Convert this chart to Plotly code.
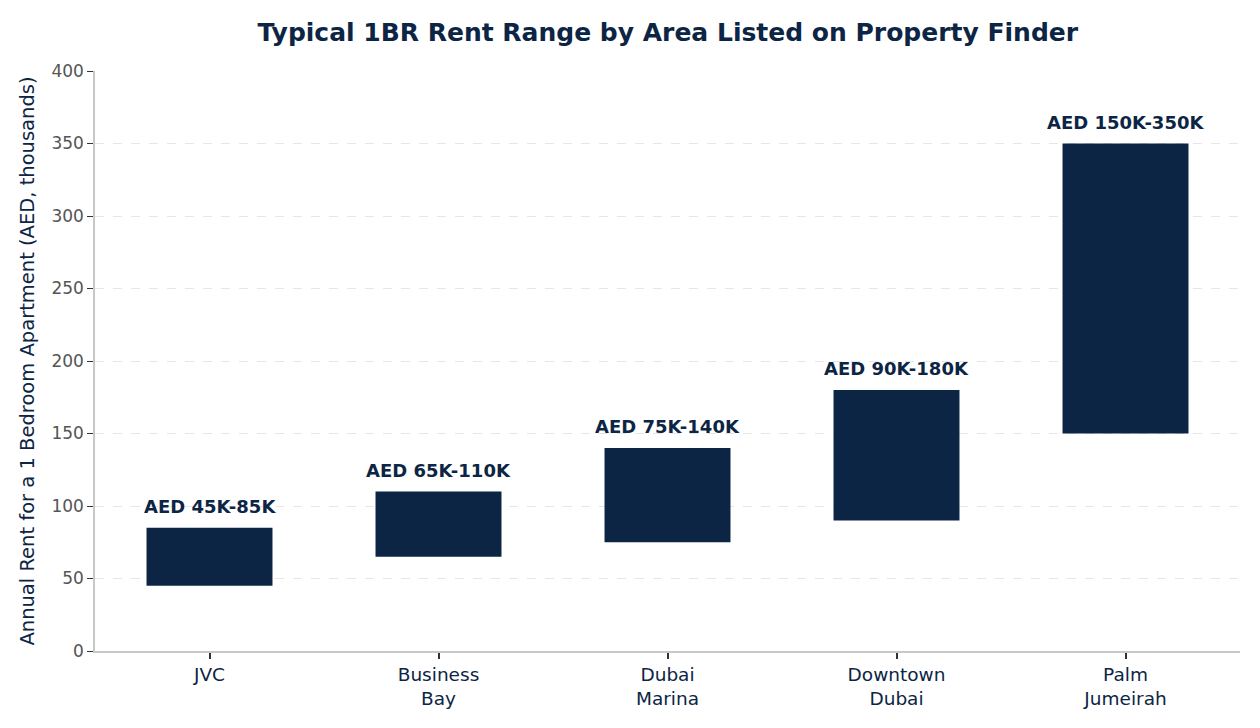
import plotly.graph_objects as go

areas = ["JVC", "Business<br>Bay", "Dubai<br>Marina", "Downtown<br>Dubai", "Palm<br>Jumeirah"]
low = [45, 65, 75, 90, 150]
high = [85, 110, 140, 180, 350]
labels = ["AED 45K-85K", "AED 65K-110K", "AED 75K-140K", "AED 90K-180K", "AED 150K-350K"]

navy = "#0c2544"
font = "DejaVu Sans"

fig = go.Figure()
fig.add_trace(go.Bar(
    x=areas,
    y=[h - l for h, l in zip(high, low)],
    base=low,
    marker=dict(color=navy, line=dict(width=0)),
    width=0.55,
    hoverinfo="skip",
))
for a, h, t in zip(areas, high, labels):
    fig.add_annotation(x=a, y=h, text="<b>" + t + "</b>", showarrow=False,
                       yanchor="bottom", yshift=9,
                       font=dict(family=font, size=18, color=navy))

fig.update_layout(
    width=1260, height=728,
    margin=dict(l=95, r=20, t=71, b=77),
    paper_bgcolor="white", plot_bgcolor="white",
    showlegend=False,
    title=dict(text="<b>Typical 1BR Rent Range by Area Listed on Property Finder</b>",
               x=0.53, xanchor="center", y=0.956, yanchor="middle",
               font=dict(family=font, size=25, color=navy)),
    font=dict(family=font),
    bargap=0.45,
)
fig.update_xaxes(
    showline=True, linecolor="#c8c8c8", linewidth=1.5,
    ticks="outside", ticklen=6, tickcolor="#333", tickwidth=1.5,
    tickfont=dict(family=font, size=18.5, color=navy),
    showgrid=False,
)
fig.update_yaxes(
    range=[0, 400], dtick=50,
    showline=True, linecolor="#c8c8c8", linewidth=1.5,
    ticks="outside", ticklen=6, tickcolor="#333", tickwidth=1,
    tickfont=dict(family=font, size=17, color="#555555"),
    showgrid=True, gridcolor="#e6e6e6", griddash="dash", gridwidth=1,
    zeroline=False,
    title=dict(text="Annual Rent for a 1 Bedroom Apartment (AED, thousands)",
               font=dict(family=font, size=19.5, color=navy), standoff=12),
)
fig.write_html("out.html")
